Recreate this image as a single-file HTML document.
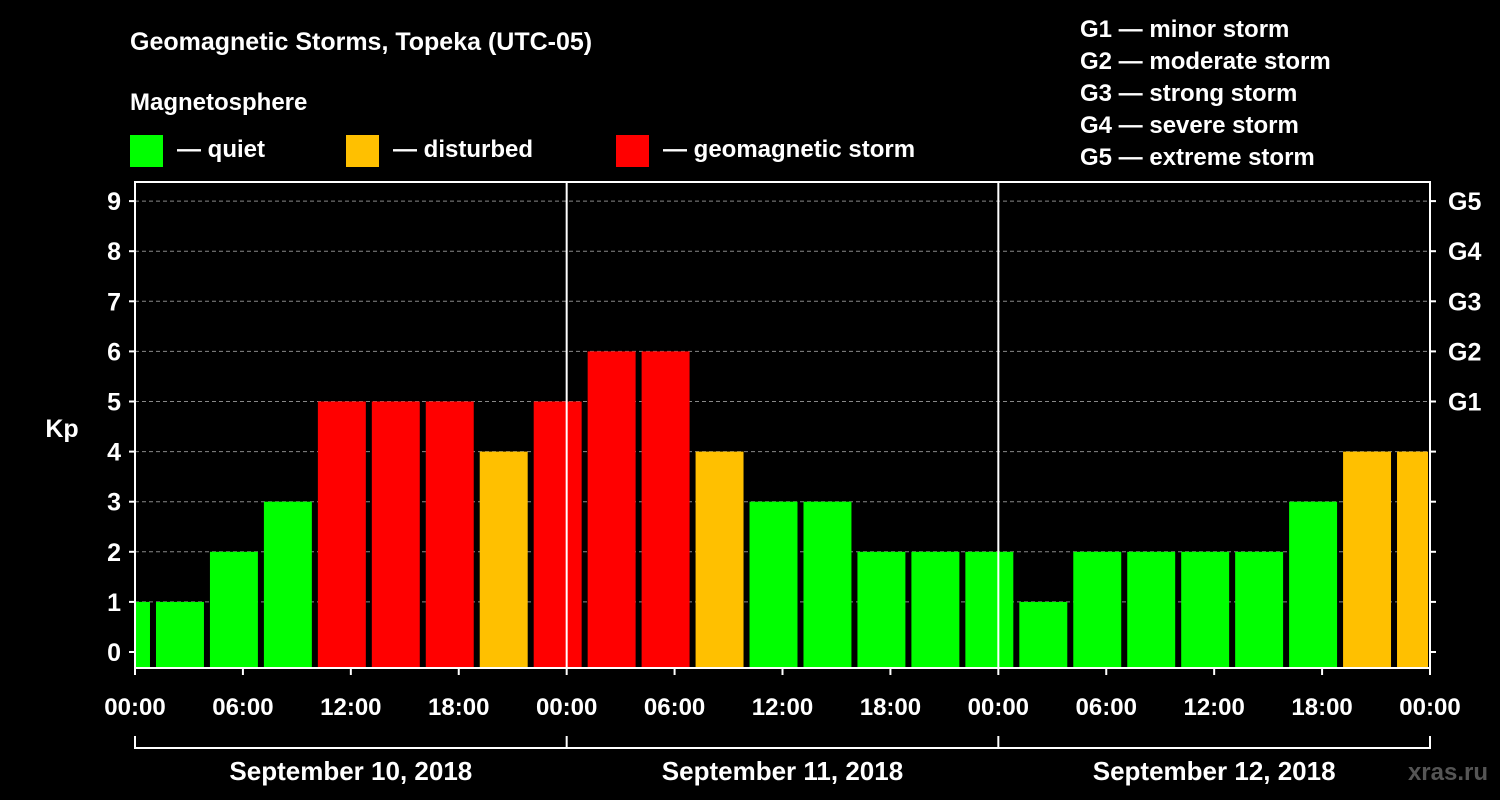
<!DOCTYPE html>
<html><head><meta charset="utf-8"><style>
body{margin:0;background:#000;}
svg{display:block;font-family:"Liberation Sans",Arial,sans-serif;font-weight:bold;}
</style></head><body>
<svg width="1500" height="800" viewBox="0 0 1500 800">
<rect width="1500" height="800" fill="#000"/>
<text x="130" y="50" fill="#fff" font-size="25">Geomagnetic Storms, Topeka (UTC-05)</text>
<text x="130" y="110" fill="#fff" font-size="24">Magnetosphere</text>
<g><rect x="130" y="135" width="33" height="32" fill="#00ff00"/><text x="177" y="157" fill="#fff" font-size="24">— quiet</text></g>
<g><rect x="346" y="135" width="33" height="32" fill="#ffc000"/><text x="393" y="157" fill="#fff" font-size="24">— disturbed</text></g>
<g><rect x="616" y="135" width="33" height="32" fill="#ff0000"/><text x="663" y="157" fill="#fff" font-size="24">— geomagnetic storm</text></g>
<g fill="#fff" font-size="24">
<text x="1080" y="37">G1 — minor storm</text>
<text x="1080" y="69">G2 — moderate storm</text>
<text x="1080" y="101">G3 — strong storm</text>
<text x="1080" y="133">G4 — severe storm</text>
<text x="1080" y="165">G5 — extreme storm</text>
</g>
<text x="62" y="437" fill="#fff" font-size="25" text-anchor="middle">Kp</text>
<g id="grid"></g><g id="bars"></g><g id="axes"></g>
<text x="1488" y="780" fill="#555" font-size="24" text-anchor="end">xras.ru</text>
</svg>
<script>
const kpValues=[1,1,2,3,5,5,5,4,5,6,6,4,3,3,2,2,2,1,2,2,2,2,3,4,4];
const barStartHours=[-2,1,4,7,10,13,16,19,22,25,28,31,34,37,40,43,46,49,52,55,58,61,64,67,70];
const yTicks=[0,1,2,3,4,5,6,7,8,9];
const gLabels=["G1","G2","G3","G4","G5"];
const xTickLabels=["00:00","06:00","12:00","18:00","00:00","06:00","12:00","18:00","00:00","06:00","12:00","18:00","00:00"];
const dayLabels=["September 10, 2018","September 11, 2018","September 12, 2018"];
const NS="http://www.w3.org/2000/svg";
const L=135,R=1430,T=182,B=668,totalH=72;
const x=h=>L+h*(R-L)/totalH;
const y=v=>652-v*50.1;
function mk(tag,attrs,parent){const e=document.createElementNS(NS,tag);for(const k in attrs)e.setAttribute(k,attrs[k]);parent.appendChild(e);return e;}
const grid=document.getElementById('grid'),bars=document.getElementById('bars'),axes=document.getElementById('axes');
const col=v=>v>=5?"#ff0000":v>=4?"#ffc000":"#00ff00";
yTicks.forEach(v=>{if(v>0){const g=mk('line',{x1:L,x2:R,y1:y(v),y2:y(v),stroke:'#888','stroke-dasharray':'4,3','stroke-width':1},grid);

}});
kpValues.forEach((v,i)=>{let x0=Math.max(L,x(barStartHours[i])+3),x1=Math.min(R-2,x(barStartHours[i]+3)-3);
const r=mk('rect',{x:x0,y:y(v),width:x1-x0,height:B-1-y(v),fill:col(v)},bars);

});
mk('rect',{x:L,y:T,width:R-L,height:B-T,fill:'none',stroke:'#fff','stroke-width':2},axes);
[24,48].forEach(h=>{mk('line',{x1:x(h),x2:x(h),y1:T,y2:B,stroke:'#fff','stroke-width':2},axes);});
yTicks.forEach(v=>{mk('line',{x1:L-6,x2:L,y1:y(v),y2:y(v),stroke:'#fff','stroke-width':2},axes);
mk('line',{x1:R,x2:R+6,y1:y(v),y2:y(v),stroke:'#fff','stroke-width':2},axes);
const t=mk('text',{x:L-14,y:y(v)+9,fill:'#fff','font-size':25,'text-anchor':'end'},axes);t.textContent=v;

});
gLabels.forEach((g,i)=>{const t=mk('text',{x:R+18,y:y(5+i)+9,fill:'#fff','font-size':25},axes);t.textContent=g;

});
xTickLabels.forEach((s,i)=>{const h=i*6;mk('line',{x1:x(h),x2:x(h),y1:B,y2:B+7,stroke:'#fff','stroke-width':2},axes);
const t=mk('text',{x:x(h),y:715,fill:'#fff','font-size':24,'text-anchor':'middle'},axes);t.textContent=s;

});
mk('line',{x1:L,x2:R,y1:748,y2:748,stroke:'#fff','stroke-width':2},axes);
[0,24,48,72].forEach(h=>mk('line',{x1:x(h),x2:x(h),y1:736,y2:749,stroke:'#fff','stroke-width':2},axes));
dayLabels.forEach((d,i)=>{const t=mk('text',{x:x(i*24+12),y:780,fill:'#fff','font-size':26,'text-anchor':'middle'},axes);t.textContent=d;

});
</script>
</body></html>
